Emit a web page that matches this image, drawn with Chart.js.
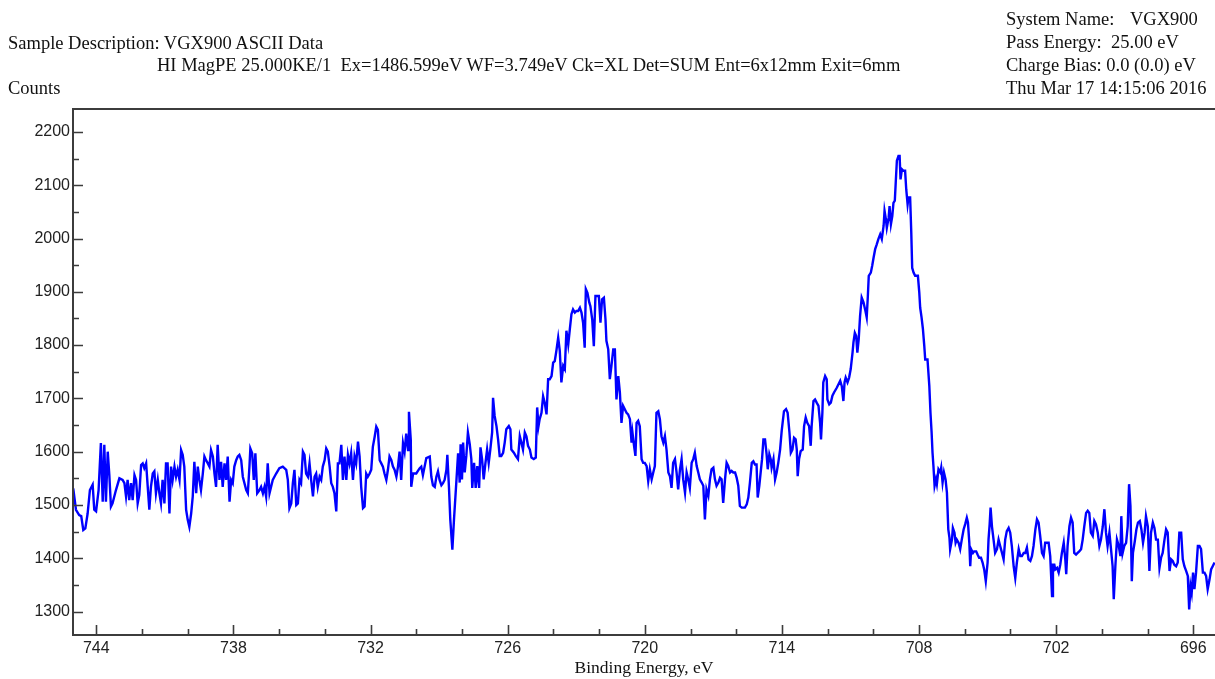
<!DOCTYPE html>
<html>
<head>
<meta charset="utf-8">
<title>VGX900 ASCII Data</title>
<script src="https://cdn.jsdelivr.net/npm/chart.js@4.4.1/dist/chart.umd.min.js"></script>
<style>
  body { margin: 0; background: #fff; overflow: hidden; }
  #wrap { position: relative; width: 1215px; height: 679px; }
  #myChart { position: absolute; left: 0; top: 0; }
  .hdr {
    position: absolute;
    font-family: "Liberation Serif", "Times New Roman", serif;
    font-size: 18.5px;
    line-height: 22px;
    color: #111;
    white-space: pre;
  }
</style>
</head>
<body>
<div id="wrap">
  <canvas id="myChart" width="1215" height="679"></canvas>
  <div class="hdr" style="left:8px; top:32px">Sample Description: VGX900 ASCII Data</div>
  <div class="hdr" style="left:157px; top:54px">HI MagPE 25.000KE/1  Ex=1486.599eV WF=3.749eV Ck=XL Det=SUM Ent=6x12mm Exit=6mm</div>
  <div class="hdr" style="left:8px; top:77px">Counts</div>
  <div class="hdr" style="left:1006px; top:8px">System Name:</div>
  <div class="hdr" style="left:1130px; top:8px">VGX900</div>
  <div class="hdr" style="left:1006px; top:31px">Pass Energy:  25.00 eV</div>
  <div class="hdr" style="left:1006px; top:54px">Charge Bias: 0.0 (0.0) eV</div>
  <div class="hdr" style="left:1006px; top:77px">Thu Mar 17 14:15:06 2016</div>
</div>
<script>
// binding energy (eV)
const energy = [
  745.01,744.89,744.75,744.66,744.57,744.48,744.38,744.28,744.16,744.09,
  744.01,743.90,743.80,743.72,743.65,743.58,743.50,743.43,743.36,743.29,
  743.14,742.99,742.85,742.77,742.70,742.63,742.56,742.48,742.41,742.33,
  742.26,742.19,742.12,742.04,741.97,741.90,741.82,741.75,741.68,741.61,
  741.53,741.46,741.39,741.31,741.24,741.17,741.10,741.02,740.95,740.88,
  740.80,740.73,740.66,740.58,740.51,740.44,740.36,740.29,740.22,740.15,
  740.07,740.00,739.93,739.85,739.78,739.71,739.63,739.56,739.49,739.42,
  739.34,739.27,739.20,739.12,739.05,738.98,738.90,738.83,738.76,738.69,
  738.61,738.54,738.47,738.39,738.32,738.25,738.17,738.10,738.03,737.96,
  737.88,737.81,737.74,737.66,737.59,737.44,737.37,737.30,737.26,737.18,
  737.11,737.04,736.96,736.86,736.79,736.71,736.64,736.57,736.50,736.42,
  736.28,736.13,735.99,735.84,735.69,735.62,735.55,735.47,735.40,735.33,
  735.25,735.18,735.11,735.04,734.96,734.89,734.82,734.74,734.67,734.60,
  734.52,734.45,734.38,734.31,734.23,734.16,734.09,734.01,733.94,733.87,
  733.79,733.72,733.65,733.58,733.50,733.43,733.36,733.28,733.21,733.14,
  733.06,732.99,732.92,732.85,732.77,732.70,732.63,732.55,732.48,732.41,
  732.33,732.26,732.19,732.12,732.04,731.97,731.90,731.82,731.75,731.68,
  731.60,731.53,731.46,731.39,731.31,731.24,731.17,731.09,731.02,730.95,
  730.87,730.80,730.73,730.66,730.58,730.51,730.44,730.36,730.32,730.24,
  730.22,730.14,730.00,729.85,729.78,729.71,729.56,729.41,729.34,729.27,
  729.19,729.12,729.05,728.98,728.90,728.83,728.76,728.68,728.64,728.57,
  728.51,728.42,728.35,728.25,728.17,728.10,728.06,728.00,727.95,727.88,
  727.81,727.74,727.66,727.59,727.55,727.47,727.40,727.33,727.25,727.19,
  727.12,727.05,726.98,726.90,726.83,726.76,726.68,726.64,726.57,726.49,
  726.42,726.35,726.28,726.20,726.13,726.06,725.95,725.88,725.84,725.73,
  725.65,725.55,725.47,725.40,725.33,725.25,725.18,725.11,725.03,724.96,
  724.86,724.77,724.71,724.65,724.60,724.52,724.45,724.38,724.30,724.23,
  724.16,724.08,724.01,723.94,723.87,723.79,723.72,723.65,723.57,723.50,
  723.43,723.35,723.28,723.21,723.14,723.06,722.99,722.92,722.84,722.77,
  722.70,722.63,722.58,722.51,722.43,722.38,722.30,722.23,722.16,722.08,
  722.01,721.94,721.87,721.79,721.72,721.68,721.60,721.53,721.46,721.38,
  721.31,721.24,721.16,721.09,721.02,720.95,720.87,720.80,720.73,720.65,
  720.58,720.54,720.47,720.41,720.36,720.29,720.22,720.14,720.07,720.00,
  719.92,719.85,719.78,719.70,719.63,719.56,719.49,719.41,719.34,719.27,
  719.19,719.12,719.05,718.97,718.90,718.83,718.76,718.68,718.61,718.54,
  718.46,718.39,718.32,718.24,718.17,718.10,718.03,717.95,717.88,717.81,
  717.73,717.66,717.59,717.51,717.44,717.37,717.30,717.22,717.15,717.08,
  717.00,716.93,716.86,716.78,716.71,716.64,716.57,716.49,716.42,716.35,
  716.27,716.20,716.13,716.05,715.98,715.91,715.84,715.76,715.69,715.62,
  715.54,715.47,715.40,715.32,715.25,715.18,715.11,715.06,714.99,714.93,
  714.87,714.81,714.74,714.67,714.62,714.55,714.49,714.45,714.37,714.30,
  714.23,714.16,714.08,714.01,713.97,713.91,713.82,713.75,713.67,713.61,
  713.54,713.47,713.40,713.35,713.31,713.25,713.18,713.09,713.03,712.96,
  712.89,712.81,712.74,712.70,712.62,712.55,712.48,712.40,712.33,712.29,
  712.23,712.19,712.11,712.04,712.01,711.93,711.86,711.79,711.72,711.60,
  711.53,711.45,711.38,711.31,711.26,711.21,711.13,711.06,710.99,710.91,
  710.87,710.81,710.75,710.70,710.64,710.58,710.51,710.43,710.36,710.29,
  710.24,710.20,710.11,710.05,709.99,709.92,709.85,709.78,709.70,709.63,
  709.55,709.51,709.45,709.41,709.33,709.29,709.23,709.17,709.12,709.06,
  709.02,708.97,708.90,708.85,708.81,708.75,708.68,708.61,708.56,708.50,
  708.46,708.39,708.34,708.30,708.24,708.17,708.05,707.99,707.95,707.89,
  707.83,707.77,707.73,707.63,707.55,707.50,707.45,707.41,707.37,707.32,
  707.26,707.22,707.15,707.07,707.03,706.97,706.91,706.84,706.78,706.72,
  706.67,706.64,706.56,706.52,706.45,706.40,706.35,706.27,706.20,706.13,
  706.05,705.98,705.91,705.86,705.80,705.76,705.72,705.64,705.59,705.50,
  705.44,705.37,705.29,705.22,705.15,705.08,705.00,704.96,704.91,704.87,
  704.81,704.74,704.67,704.59,704.52,704.45,704.37,704.30,704.23,704.16,
  704.08,704.01,703.94,703.86,703.79,703.72,703.64,703.57,703.50,703.42,
  703.35,703.28,703.21,703.13,703.06,702.99,702.91,702.84,702.77,702.70,
  702.62,702.55,702.48,702.40,702.33,702.26,702.18,702.14,702.08,702.04,
  701.96,701.89,701.82,701.75,701.67,701.60,701.56,701.50,701.42,701.35,
  701.28,701.21,701.13,701.06,700.99,700.91,700.84,700.77,700.69,700.62,
  700.55,700.48,700.40,700.33,700.26,700.18,700.11,700.04,699.96,699.89,
  699.82,699.75,699.67,699.60,699.53,699.48,699.41,699.34,699.26,699.19,
  699.15,699.09,699.02,698.94,698.87,698.81,698.75,698.69,698.64,698.56,
  698.49,698.42,698.34,698.27,698.20,698.13,698.07,697.99,697.92,697.85,
  697.77,697.70,697.63,697.55,697.48,697.41,697.34,697.26,697.19,697.12,
  697.04,696.97,696.90,696.83,696.75,696.68,696.61,696.53,696.46,696.39,
  696.31,696.24,696.18,696.12,696.07,696.01,695.95,695.88,695.80,695.73,
  695.66,695.58,695.51,695.44,695.37,695.29,695.22,695.15,695.07
];

// counts at each energy above
const counts = [
  1531,1491,1481,1479,1453,1456,1484,1528,1538,1491,
  1488,1528,1616,1506,1613,1506,1600,1556,1497,1503,
  1528,1550,1547,1541,1516,1547,1509,1541,1509,1556,
  1547,1503,1519,1575,1578,1569,1578,1534,1491,1534,
  1559,1563,1522,1547,1522,1503,1547,1503,1578,1578,
  1484,1572,1547,1572,1553,1566,1547,1603,1594,1572,
  1491,1472,1459,1484,1516,1581,1522,1572,1547,1528,
  1559,1591,1584,1578,1572,1603,1591,1559,1534,1613,
  1547,1581,1534,1578,1547,1591,1506,1547,1541,1572,
  1584,1591,1594,1584,1553,1528,1522,1572,1606,1597,
  1547,1597,1522,1528,1534,1522,1534,1516,1578,1522,
  1547,1559,1569,1572,1566,1547,1494,1503,1541,1566,
  1500,1503,1547,1541,1600,1594,1559,1553,1578,1547,
  1516,1553,1559,1534,1553,1547,1572,1584,1606,1600,
  1572,1541,1534,1522,1488,1578,1578,1613,1547,1591,
  1547,1594,1578,1597,1547,1591,1578,1619,1591,1534,
  1494,1497,1559,1553,1559,1566,1609,1628,1647,1641,
  1584,1578,1572,1559,1547,1566,1591,1584,1572,1566,
  1553,1572,1600,1547,1616,1600,1634,1603,1675,1622,
  1534,1559,1559,1569,1572,1556,1588,1591,1553,1537,
  1534,1553,1563,1547,1537,1541,1547,1566,1594,1534,
  1472,1416,1472,1541,1597,1542,1614,1548,1617,1561,
  1592,1636,1614,1586,1532,1579,1532,1573,1532,1608,
  1586,1548,1576,1604,1579,1604,1636,1701,1667,1648,
  1623,1592,1592,1598,1617,1642,1648,1642,1604,1598,
  1592,1586,1629,1617,1604,1636,1629,1611,1604,1589,
  1586,1589,1683,1648,1661,1673,1704,1692,1670,1736,
  1736,1742,1767,1770,1789,1814,1789,1730,1761,1755,
  1827,1801,1830,1858,1867,1861,1864,1864,1870,1861,
  1842,1795,1905,1898,1880,1873,1848,1798,1892,1892,
  1892,1842,1886,1889,1848,1808,1792,1736,1761,1792,
  1792,1698,1742,1711,1654,1686,1679,1673,1670,1661,
  1617,1636,1611,1592,1654,1658,1648,1586,1579,1579,
  1573,1545,1567,1548,1561,1573,1673,1676,1661,1629,
  1617,1629,1604,1561,1554,1532,1579,1586,1561,1529,
  1567,1586,1548,1523,1561,1548,1532,1579,1586,1598,
  1573,1561,1548,1542,1536,1473,1529,1517,1548,1567,
  1570,1548,1536,1542,1551,1548,1504,1548,1579,1573,
  1561,1564,1561,1561,1551,1536,1498,1495,1495,1495,
  1501,1514,1542,1579,1582,1576,1576,1514,1536,1561,
  1586,1623,1623,1595,1567,1595,1586,1570,1586,1548,
  1561,1579,1604,1639,1654,1676,1680,1673,1636,1598,
  1604,1626,1623,1604,1554,1586,1601,1604,1648,1664,
  1654,1648,1611,1648,1695,1698,1692,1686,1654,1623,
  1673,1730,1742,1736,1698,1689,1692,1705,1711,1720,
  1726,1733,1723,1695,1730,1739,1730,1739,1755,1786,
  1805,1823,1817,1786,1811,1855,1889,1880,1867,1852,
  1892,1930,1936,1949,1964,1980,1989,1999,2008,1999,
  2024,2052,2036,2020,2039,2061,2027,2042,2067,2071,
  2105,2146,2155,2155,2111,2130,2127,2127,2092,2064,
  2077,2077,2011,1945,1936,1930,1930,1899,1870,1852,
  1830,1798,1773,1773,1723,1673,1636,1598,1573,1536,
  1548,1539,1567,1561,1570,1542,1561,1548,1523,1454,
  1439,1417,1435,1457,1448,1429,1435,1429,1417,1435,
  1454,1464,1476,1467,1429,1385,1417,1410,1413,1413,
  1407,1401,1401,1392,1379,1357,1392,1435,1464,1495,
  1460,1435,1410,1417,1435,1423,1410,1398,1435,1451,
  1457,1448,1423,1385,1363,1392,1417,1404,1404,1410,
  1410,1420,1398,1395,1404,1423,1454,1473,1467,1442,
  1410,1404,1429,1429,1429,1404,1329,1388,1388,1379,
  1382,1373,1388,1410,1429,1398,1370,1423,1460,1476,
  1467,1410,1407,1410,1413,1417,1435,1460,1485,1489,
  1485,1448,1442,1470,1464,1448,1423,1435,1460,1492,
  1448,1423,1448,1417,1385,1323,1385,1435,1423,1404,
  1479,1410,1423,1429,1460,1539,1498,1357,1410,1432,
  1454,1467,1470,1454,1429,1448,1479,1460,1376,1448,
  1467,1457,1435,1435,1382,1401,1410,1435,1454,1448,
  1376,1398,1395,1388,1385,1392,1448,1448,1398,1385,
  1376,1367,1304,1348,1335,1373,1342,1373,1423,1423,
  1417,1373,1373,1367,1342,1360,1379,1385,1392
];

// axis ticks
const xMajor = [744, 738, 732, 726, 720, 714, 708, 702, 696];
const xMinor = [742, 740, 736, 734, 730, 728, 724, 722, 718, 716, 712, 710, 706, 704, 700, 698];
const yMajor = [1300, 1400, 1500, 1600, 1700, 1800, 1900, 2000, 2100, 2200];
const yMinor = [1350, 1450, 1550, 1650, 1750, 1850, 1950, 2050, 2150];

const axisColor = '#3c3c3c';

// frame (top, left, bottom) and inward tick marks
const frameTicks = {
  id: 'frameTicks',
  afterDatasetsDraw(chart) {
    const ctx = chart.ctx;
    const a = chart.chartArea;
    const x = chart.scales.x;
    const y = chart.scales.y;
    ctx.save();
    ctx.strokeStyle = axisColor;
    ctx.lineWidth = 1.6;
    ctx.beginPath();
    xMajor.forEach(v => {
      const px = Math.round(x.getPixelForValue(v)) + 0.5;
      ctx.moveTo(px, a.bottom);
      ctx.lineTo(px, a.bottom - 10);
    });
    xMinor.forEach(v => {
      const px = Math.round(x.getPixelForValue(v)) + 0.5;
      ctx.moveTo(px, a.bottom);
      ctx.lineTo(px, a.bottom - 6);
    });
    yMajor.forEach(v => {
      const py = Math.round(y.getPixelForValue(v)) + 0.5;
      ctx.moveTo(a.left, py);
      ctx.lineTo(a.left + 10, py);
    });
    yMinor.forEach(v => {
      const py = Math.round(y.getPixelForValue(v)) + 0.5;
      ctx.moveTo(a.left, py);
      ctx.lineTo(a.left + 6, py);
    });
    ctx.stroke();
    ctx.lineWidth = 2;
    ctx.beginPath();
    ctx.moveTo(a.right + 2, a.top);
    ctx.lineTo(a.left, a.top);
    ctx.lineTo(a.left, a.bottom);
    ctx.lineTo(a.right + 2, a.bottom);
    ctx.stroke();
    ctx.restore();
  }
};

const ctx = document.getElementById('myChart').getContext('2d');
const myChart = new Chart(ctx, {
  type: 'line',
  data: {
    datasets: [{
      label: 'Counts',
      data: energy.map((e, i) => ({ x: e, y: counts[i] })),
      borderColor: '#0000ff',
      borderWidth: 2.4,
      pointRadius: 0,
      tension: 0,
      fill: false
    }]
  },
  options: {
    responsive: false,
    animation: false,
    devicePixelRatio: 1,
    layout: { padding: { top: 109, right: 0, bottom: 0, left: 0 }, autoPadding: false },
    plugins: { legend: { display: false }, tooltip: { enabled: false } },
    scales: {
      x: {
        type: 'linear',
        reverse: true,
        min: 695.05,
        max: 745.02,
        grid: { display: false, drawTicks: false },
        border: { display: false },
        afterBuildTicks: s => { s.ticks = xMajor.map(v => ({ value: v })); },
        afterFit: s => { s.height = 44; },
        ticks: {
          padding: 4,
          maxRotation: 0,
          autoSkip: false,
          color: '#222',
          font: { family: '"Liberation Sans", Arial, sans-serif', size: 16 },
          callback: v => String(v)
        },
        title: {
          display: true,
          text: 'Binding Energy, eV',
          color: '#111',
          padding: { top: 0, bottom: 0 },
          font: { family: '"Liberation Serif", "Times New Roman", serif', size: 17.5 }
        }
      },
      y: {
        min: 1256,
        max: 2243,
        grid: { display: false, drawTicks: false },
        border: { display: false },
        afterBuildTicks: s => { s.ticks = yMajor.map(v => ({ value: v })); },
        afterFit: s => { s.width = 73; },
        ticks: {
          padding: 3,
          autoSkip: false,
          color: '#222',
          font: { family: '"Liberation Sans", Arial, sans-serif', size: 16 },
          callback: v => String(v)
        }
      }
    }
  },
  plugins: [frameTicks]
});
</script>
</body>
</html>
